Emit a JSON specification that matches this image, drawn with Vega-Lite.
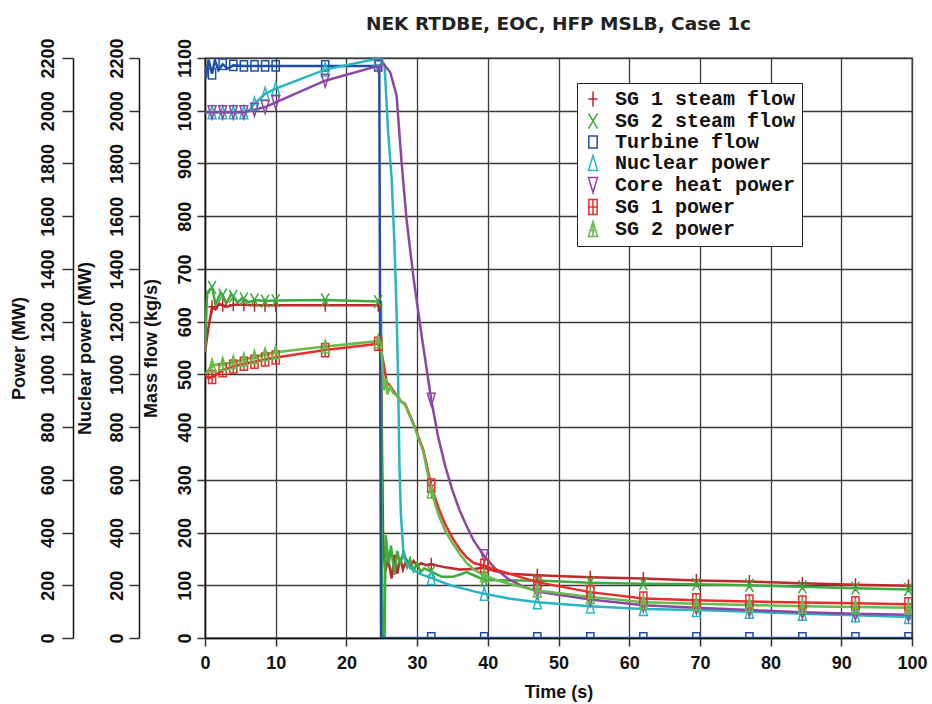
{
"$schema":"https://vega.github.io/schema/vega-lite/v6.json",
"width":707,"height":580,
"autosize":{"type":"none"},
"padding":{"left":205,"top":58,"right":20,"bottom":66},
"background":"white",
"title":{"text":"NEK RTDBE, EOC, HFP MSLB, Case 1c","font":"DejaVu Sans","fontWeight":"bold","fontSize":18.5,"color":"#222","anchor":"middle","frame":"group","offset":-11,"baseline":"alphabetic"},
"config":{
 "view":{"stroke":"#333","strokeWidth":1.3},
 "axis":{"labelFont":"Liberation Sans","labelFontWeight":"bold","labelFontSize":18,"labelColor":"#111","labelOverlap":false,"titleFont":"Liberation Sans","titleFontWeight":"bold","titleFontSize":18,"titleColor":"#111","domainColor":"#111","domainWidth":1.5,"tickColor":"#333","tickWidth":1.5}
},
"datasets":{
"pax":[{"p":0},{"p":2200}],
"flow":[
{"s":"SG 1 steam flow","t":0,"v":542,"m":0},{"s":"SG 1 steam flow","t":0.5,"v":590,"m":0},{"s":"SG 1 steam flow","t":1,"v":628,"m":1},{"s":"SG 1 steam flow","t":1.5,"v":623,"m":0},{"s":"SG 1 steam flow","t":2,"v":634,"m":0},{"s":"SG 1 steam flow","t":2.5,"v":631,"m":1},{"s":"SG 1 steam flow","t":3,"v":628,"m":0},{"s":"SG 1 steam flow","t":4,"v":632,"m":1},{"s":"SG 1 steam flow","t":5.5,"v":632,"m":1},{"s":"SG 1 steam flow","t":7,"v":631,"m":1},{"s":"SG 1 steam flow","t":8.5,"v":631,"m":1},{"s":"SG 1 steam flow","t":10,"v":631,"m":1},{"s":"SG 1 steam flow","t":17,"v":631,"m":1},{"s":"SG 1 steam flow","t":24.5,"v":631,"m":1},{"s":"SG 1 steam flow","t":24.8,"v":630,"m":0},{"s":"SG 1 steam flow","t":25.2,"v":182,"m":0},{"s":"SG 1 steam flow","t":25.5,"v":125,"m":0},{"s":"SG 1 steam flow","t":25.9,"v":150,"m":0},{"s":"SG 1 steam flow","t":26.4,"v":113,"m":0},{"s":"SG 1 steam flow","t":26.8,"v":158,"m":0},{"s":"SG 1 steam flow","t":27.2,"v":122,"m":0},{"s":"SG 1 steam flow","t":27.6,"v":152,"m":0},{"s":"SG 1 steam flow","t":28,"v":130,"m":0},{"s":"SG 1 steam flow","t":28.5,"v":148,"m":0},{"s":"SG 1 steam flow","t":29,"v":134,"m":0},{"s":"SG 1 steam flow","t":29.5,"v":146,"m":0},{"s":"SG 1 steam flow","t":30,"v":137,"m":0},{"s":"SG 1 steam flow","t":30.6,"v":142,"m":0},{"s":"SG 1 steam flow","t":31.2,"v":138,"m":0},{"s":"SG 1 steam flow","t":32,"v":140,"m":1},{"s":"SG 1 steam flow","t":34,"v":134,"m":0},{"s":"SG 1 steam flow","t":36,"v":130,"m":0},{"s":"SG 1 steam flow","t":38,"v":131,"m":0},{"s":"SG 1 steam flow","t":39.5,"v":133,"m":1},{"s":"SG 1 steam flow","t":41,"v":127,"m":0},{"s":"SG 1 steam flow","t":43,"v":122,"m":0},{"s":"SG 1 steam flow","t":47,"v":119,"m":1},{"s":"SG 1 steam flow","t":54.5,"v":115,"m":1},{"s":"SG 1 steam flow","t":62,"v":113,"m":1},{"s":"SG 1 steam flow","t":69.5,"v":109,"m":1},{"s":"SG 1 steam flow","t":77,"v":107,"m":1},{"s":"SG 1 steam flow","t":84.5,"v":104,"m":1},{"s":"SG 1 steam flow","t":92,"v":101,"m":1},{"s":"SG 1 steam flow","t":99.5,"v":99,"m":1},{"s":"SG 1 steam flow","t":100,"v":98.5,"m":0},
{"s":"SG 2 steam flow","t":0,"v":542,"m":0},{"s":"SG 2 steam flow","t":0.3,"v":655,"m":0},{"s":"SG 2 steam flow","t":1,"v":665,"m":1},{"s":"SG 2 steam flow","t":1.5,"v":632,"m":0},{"s":"SG 2 steam flow","t":2.2,"v":655,"m":0},{"s":"SG 2 steam flow","t":2.5,"v":650,"m":1},{"s":"SG 2 steam flow","t":3,"v":634,"m":0},{"s":"SG 2 steam flow","t":3.7,"v":652,"m":0},{"s":"SG 2 steam flow","t":4,"v":648,"m":1},{"s":"SG 2 steam flow","t":4.6,"v":636,"m":0},{"s":"SG 2 steam flow","t":5.3,"v":645,"m":0},{"s":"SG 2 steam flow","t":5.5,"v":643,"m":1},{"s":"SG 2 steam flow","t":6.2,"v":637,"m":0},{"s":"SG 2 steam flow","t":7,"v":641,"m":1},{"s":"SG 2 steam flow","t":8.5,"v":639,"m":1},{"s":"SG 2 steam flow","t":10,"v":640,"m":1},{"s":"SG 2 steam flow","t":17,"v":641,"m":1},{"s":"SG 2 steam flow","t":24.5,"v":638,"m":1},{"s":"SG 2 steam flow","t":24.9,"v":637,"m":0},{"s":"SG 2 steam flow","t":25.1,"v":0,"m":0},{"s":"SG 2 steam flow","t":25.4,"v":0,"m":0},{"s":"SG 2 steam flow","t":25.55,"v":195,"m":0},{"s":"SG 2 steam flow","t":26,"v":140,"m":0},{"s":"SG 2 steam flow","t":26.3,"v":175,"m":0},{"s":"SG 2 steam flow","t":26.8,"v":120,"m":0},{"s":"SG 2 steam flow","t":27.2,"v":165,"m":0},{"s":"SG 2 steam flow","t":27.6,"v":140,"m":0},{"s":"SG 2 steam flow","t":28.1,"v":165,"m":0},{"s":"SG 2 steam flow","t":28.6,"v":135,"m":0},{"s":"SG 2 steam flow","t":29,"v":150,"m":0},{"s":"SG 2 steam flow","t":29.5,"v":128,"m":0},{"s":"SG 2 steam flow","t":30,"v":142,"m":0},{"s":"SG 2 steam flow","t":30.5,"v":125,"m":0},{"s":"SG 2 steam flow","t":31,"v":132,"m":0},{"s":"SG 2 steam flow","t":32,"v":126,"m":1},{"s":"SG 2 steam flow","t":33.5,"v":116,"m":0},{"s":"SG 2 steam flow","t":35,"v":116,"m":0},{"s":"SG 2 steam flow","t":36,"v":120,"m":0},{"s":"SG 2 steam flow","t":37,"v":125,"m":0},{"s":"SG 2 steam flow","t":38,"v":119,"m":0},{"s":"SG 2 steam flow","t":39.5,"v":110,"m":1},{"s":"SG 2 steam flow","t":43,"v":109,"m":0},{"s":"SG 2 steam flow","t":47,"v":109,"m":1},{"s":"SG 2 steam flow","t":54.5,"v":105,"m":1},{"s":"SG 2 steam flow","t":62,"v":103,"m":1},{"s":"SG 2 steam flow","t":69.5,"v":102,"m":1},{"s":"SG 2 steam flow","t":77,"v":100,"m":1},{"s":"SG 2 steam flow","t":84.5,"v":97,"m":1},{"s":"SG 2 steam flow","t":92,"v":94.5,"m":1},{"s":"SG 2 steam flow","t":99.5,"v":92,"m":1},{"s":"SG 2 steam flow","t":100,"v":92,"m":0},
{"s":"Turbine flow","t":0,"v":1085,"m":0},{"s":"Turbine flow","t":0.15,"v":1062,"m":0},{"s":"Turbine flow","t":0.5,"v":1097,"m":0},{"s":"Turbine flow","t":1,"v":1070,"m":1},{"s":"Turbine flow","t":1.4,"v":1096,"m":0},{"s":"Turbine flow","t":1.9,"v":1077,"m":0},{"s":"Turbine flow","t":2.5,"v":1088,"m":1},{"s":"Turbine flow","t":3.2,"v":1080,"m":0},{"s":"Turbine flow","t":4,"v":1086,"m":1},{"s":"Turbine flow","t":5.5,"v":1085,"m":1},{"s":"Turbine flow","t":7,"v":1085,"m":1},{"s":"Turbine flow","t":8.5,"v":1085,"m":1},{"s":"Turbine flow","t":10,"v":1085,"m":1},{"s":"Turbine flow","t":17,"v":1085,"m":1},{"s":"Turbine flow","t":24.5,"v":1085,"m":1},{"s":"Turbine flow","t":24.65,"v":1085,"m":0},{"s":"Turbine flow","t":24.9,"v":0,"m":0},{"s":"Turbine flow","t":32,"v":0,"m":1},{"s":"Turbine flow","t":39.5,"v":0,"m":1},{"s":"Turbine flow","t":47,"v":0,"m":1},{"s":"Turbine flow","t":54.5,"v":0,"m":1},{"s":"Turbine flow","t":62,"v":0,"m":1},{"s":"Turbine flow","t":69.5,"v":0,"m":1},{"s":"Turbine flow","t":77,"v":0,"m":1},{"s":"Turbine flow","t":84.5,"v":0,"m":1},{"s":"Turbine flow","t":92,"v":0,"m":1},{"s":"Turbine flow","t":99.5,"v":0,"m":1},{"s":"Turbine flow","t":100,"v":0,"m":0}
],
"power":[
{"s":"Nuclear power","t":0,"v":1994,"m":0},{"s":"Nuclear power","t":1,"v":1994,"m":1},{"s":"Nuclear power","t":2.5,"v":1994,"m":1},{"s":"Nuclear power","t":4,"v":1994,"m":1},{"s":"Nuclear power","t":5.5,"v":1994,"m":1},{"s":"Nuclear power","t":6.2,"v":2000,"m":0},{"s":"Nuclear power","t":7,"v":2026,"m":1},{"s":"Nuclear power","t":8.5,"v":2064,"m":1},{"s":"Nuclear power","t":10,"v":2084,"m":1},{"s":"Nuclear power","t":17,"v":2156,"m":1},{"s":"Nuclear power","t":24.5,"v":2198,"m":1},{"s":"Nuclear power","t":24.9,"v":2200,"m":0},{"s":"Nuclear power","t":25.4,"v":2170,"m":0},{"s":"Nuclear power","t":25.9,"v":1920,"m":0},{"s":"Nuclear power","t":26.4,"v":1742,"m":0},{"s":"Nuclear power","t":26.8,"v":1490,"m":0},{"s":"Nuclear power","t":27.1,"v":1236,"m":0},{"s":"Nuclear power","t":27.3,"v":1000,"m":0},{"s":"Nuclear power","t":27.5,"v":660,"m":0},{"s":"Nuclear power","t":27.7,"v":472,"m":0},{"s":"Nuclear power","t":28.1,"v":308,"m":0},{"s":"Nuclear power","t":28.6,"v":280,"m":0},{"s":"Nuclear power","t":29.3,"v":260,"m":0},{"s":"Nuclear power","t":30.5,"v":242,"m":0},{"s":"Nuclear power","t":32,"v":228,"m":1},{"s":"Nuclear power","t":34.7,"v":200,"m":0},{"s":"Nuclear power","t":38.2,"v":176,"m":0},{"s":"Nuclear power","t":39.5,"v":168,"m":1},{"s":"Nuclear power","t":43,"v":150,"m":0},{"s":"Nuclear power","t":47,"v":136,"m":1},{"s":"Nuclear power","t":54.5,"v":120,"m":1},{"s":"Nuclear power","t":62,"v":110,"m":1},{"s":"Nuclear power","t":69.5,"v":106,"m":1},{"s":"Nuclear power","t":77,"v":100,"m":1},{"s":"Nuclear power","t":84.5,"v":92,"m":1},{"s":"Nuclear power","t":92,"v":86,"m":1},{"s":"Nuclear power","t":99.5,"v":80,"m":1},{"s":"Nuclear power","t":100,"v":80,"m":0},
{"s":"Core heat power","t":0,"v":1994,"m":0},{"s":"Core heat power","t":1,"v":1994,"m":1},{"s":"Core heat power","t":2.5,"v":1994,"m":1},{"s":"Core heat power","t":4,"v":1994,"m":1},{"s":"Core heat power","t":5.5,"v":1994,"m":1},{"s":"Core heat power","t":7,"v":2004,"m":1},{"s":"Core heat power","t":8.5,"v":2014,"m":1},{"s":"Core heat power","t":10,"v":2032,"m":1},{"s":"Core heat power","t":17,"v":2114,"m":1},{"s":"Core heat power","t":24.5,"v":2170,"m":1},{"s":"Core heat power","t":25.3,"v":2176,"m":0},{"s":"Core heat power","t":26.2,"v":2146,"m":0},{"s":"Core heat power","t":27.1,"v":2058,"m":0},{"s":"Core heat power","t":27.8,"v":1806,"m":0},{"s":"Core heat power","t":28.5,"v":1590,"m":0},{"s":"Core heat power","t":29.5,"v":1364,"m":0},{"s":"Core heat power","t":30.7,"v":1136,"m":0},{"s":"Core heat power","t":32,"v":904,"m":1},{"s":"Core heat power","t":33,"v":760,"m":0},{"s":"Core heat power","t":34,"v":650,"m":0},{"s":"Core heat power","t":35,"v":560,"m":0},{"s":"Core heat power","t":36,"v":485,"m":0},{"s":"Core heat power","t":37,"v":425,"m":0},{"s":"Core heat power","t":38,"v":370,"m":0},{"s":"Core heat power","t":39.5,"v":310,"m":1},{"s":"Core heat power","t":41,"v":265,"m":0},{"s":"Core heat power","t":43,"v":222,"m":0},{"s":"Core heat power","t":45,"v":195,"m":0},{"s":"Core heat power","t":47,"v":176,"m":1},{"s":"Core heat power","t":54.5,"v":146,"m":1},{"s":"Core heat power","t":62,"v":124,"m":1},{"s":"Core heat power","t":69.5,"v":115,"m":1},{"s":"Core heat power","t":77,"v":106,"m":1},{"s":"Core heat power","t":84.5,"v":98,"m":1},{"s":"Core heat power","t":92,"v":92,"m":1},{"s":"Core heat power","t":99.5,"v":88,"m":1},{"s":"Core heat power","t":100,"v":88,"m":0},
{"s":"SG 1 power","t":0,"v":996,"m":0},{"s":"SG 1 power","t":0.5,"v":986,"m":0},{"s":"SG 1 power","t":1,"v":990,"m":1},{"s":"SG 1 power","t":2.5,"v":1016,"m":1},{"s":"SG 1 power","t":4,"v":1030,"m":1},{"s":"SG 1 power","t":5.5,"v":1040,"m":1},{"s":"SG 1 power","t":7,"v":1048,"m":1},{"s":"SG 1 power","t":8.5,"v":1056,"m":1},{"s":"SG 1 power","t":10,"v":1064,"m":1},{"s":"SG 1 power","t":17,"v":1092,"m":1},{"s":"SG 1 power","t":24.5,"v":1116,"m":1},{"s":"SG 1 power","t":24.8,"v":1114,"m":0},{"s":"SG 1 power","t":25.7,"v":970,"m":0},{"s":"SG 1 power","t":26.2,"v":956,"m":0},{"s":"SG 1 power","t":27.1,"v":920,"m":0},{"s":"SG 1 power","t":27.8,"v":896,"m":0},{"s":"SG 1 power","t":28.3,"v":888,"m":0},{"s":"SG 1 power","t":29.7,"v":800,"m":0},{"s":"SG 1 power","t":30.9,"v":712,"m":0},{"s":"SG 1 power","t":32,"v":578,"m":1},{"s":"SG 1 power","t":33,"v":495,"m":0},{"s":"SG 1 power","t":34,"v":430,"m":0},{"s":"SG 1 power","t":35,"v":380,"m":0},{"s":"SG 1 power","t":36,"v":338,"m":0},{"s":"SG 1 power","t":37,"v":306,"m":0},{"s":"SG 1 power","t":38,"v":285,"m":0},{"s":"SG 1 power","t":39.5,"v":274,"m":1},{"s":"SG 1 power","t":41,"v":260,"m":0},{"s":"SG 1 power","t":43,"v":244,"m":0},{"s":"SG 1 power","t":47,"v":212,"m":1},{"s":"SG 1 power","t":54.5,"v":174,"m":1},{"s":"SG 1 power","t":62,"v":150,"m":1},{"s":"SG 1 power","t":69.5,"v":143,"m":1},{"s":"SG 1 power","t":77,"v":138,"m":1},{"s":"SG 1 power","t":84.5,"v":135,"m":1},{"s":"SG 1 power","t":92,"v":132,"m":1},{"s":"SG 1 power","t":99.5,"v":128,"m":1},{"s":"SG 1 power","t":100,"v":128,"m":0},
{"s":"SG 2 power","t":0,"v":1002,"m":0},{"s":"SG 2 power","t":0.4,"v":1012,"m":0},{"s":"SG 2 power","t":1,"v":1034,"m":1},{"s":"SG 2 power","t":2.5,"v":1040,"m":1},{"s":"SG 2 power","t":4,"v":1046,"m":1},{"s":"SG 2 power","t":5.5,"v":1056,"m":1},{"s":"SG 2 power","t":7,"v":1066,"m":1},{"s":"SG 2 power","t":8.5,"v":1076,"m":1},{"s":"SG 2 power","t":10,"v":1084,"m":1},{"s":"SG 2 power","t":17,"v":1106,"m":1},{"s":"SG 2 power","t":24.5,"v":1126,"m":1},{"s":"SG 2 power","t":24.9,"v":1120,"m":0},{"s":"SG 2 power","t":25.3,"v":940,"m":0},{"s":"SG 2 power","t":25.6,"v":985,"m":0},{"s":"SG 2 power","t":25.8,"v":924,"m":0},{"s":"SG 2 power","t":26.2,"v":956,"m":0},{"s":"SG 2 power","t":26.6,"v":930,"m":0},{"s":"SG 2 power","t":27.1,"v":920,"m":0},{"s":"SG 2 power","t":27.8,"v":896,"m":0},{"s":"SG 2 power","t":28.3,"v":884,"m":0},{"s":"SG 2 power","t":29.7,"v":796,"m":0},{"s":"SG 2 power","t":30.9,"v":704,"m":0},{"s":"SG 2 power","t":32,"v":556,"m":1},{"s":"SG 2 power","t":33,"v":470,"m":0},{"s":"SG 2 power","t":34,"v":405,"m":0},{"s":"SG 2 power","t":35,"v":360,"m":0},{"s":"SG 2 power","t":36,"v":320,"m":0},{"s":"SG 2 power","t":37,"v":285,"m":0},{"s":"SG 2 power","t":38,"v":260,"m":0},{"s":"SG 2 power","t":39.5,"v":238,"m":1},{"s":"SG 2 power","t":41,"v":222,"m":0},{"s":"SG 2 power","t":43,"v":206,"m":0},{"s":"SG 2 power","t":47,"v":180,"m":1},{"s":"SG 2 power","t":54.5,"v":156,"m":1},{"s":"SG 2 power","t":62,"v":136,"m":1},{"s":"SG 2 power","t":69.5,"v":130,"m":1},{"s":"SG 2 power","t":77,"v":125,"m":1},{"s":"SG 2 power","t":84.5,"v":120,"m":1},{"s":"SG 2 power","t":92,"v":118,"m":1},{"s":"SG 2 power","t":99.5,"v":115,"m":1},{"s":"SG 2 power","t":100,"v":115,"m":0}
]
},
"layer":[
{"data":{"name":"pax"},"mark":{"type":"point","opacity":0},
 "encoding":{"y":{"field":"p","type":"quantitative","scale":{"domain":[0,2200],"nice":false},
  "axis":{"orient":"left","offset":132,"values":[0,200,400,600,800,1000,1200,1400,1600,1800,2000,2200],"format":"d","grid":false,"tickSize":11,"labelPadding":9,"labelAngle":270,"labelAlign":"center","labelBaseline":"alphabetic","title":"Power  (MW)","titleX":-49,"titleY":290,"titleAngle":270,"titleAlign":"center","titleBaseline":"alphabetic"}}}},
{"data":{"name":"flow"},
 "encoding":{
  "x":{"field":"t","type":"quantitative","scale":{"domain":[0,100],"nice":false},
   "axis":{"title":"Time (s)","values":[0,10,20,30,40,50,60,70,80,90,100],"format":"d","grid":true,"gridColor":"#3a3a3a","gridWidth":1.3,"tickSize":8,"labelPadding":8,"labelAngle":0,"labelFlush":false,"titleBaseline":"alphabetic","titleY":59,"titleX":353.5,"titleAlign":"center"}},
  "y":{"field":"v","type":"quantitative","scale":{"domain":[0,1100],"nice":false},
   "axis":{"orient":"left","offset":0,"values":[0,100,200,300,400,500,600,700,800,900,1000,1100],"format":"d","grid":true,"gridColor":"#3a3a3a","gridWidth":1.3,"tickSize":8,"labelPadding":7,"labelAngle":270,"labelAlign":"center","labelBaseline":"alphabetic","title":"Mass flow  (kg/s)","titleX":-49,"titleY":290,"titleAngle":270,"titleAlign":"center","titleBaseline":"alphabetic"}},
  "color":{"field":"s","type":"nominal",
   "scale":{"domain":["SG 1 steam flow","SG 2 steam flow","Turbine flow","Nuclear power","Core heat power","SG 1 power","SG 2 power"],"range":["#c1272d","#3daa3d","#1f4ea3","#27b6c1","#8d45a5","#ec2b2b","#66bb4a"]},
   "legend":{"orient":"none","legendX":372,"legendY":25,"title":null,"labelFont":"Liberation Mono","labelFontWeight":"bold","labelFontSize":20,"labelColor":"#111","symbolSize":230,"symbolStrokeWidth":1.5,"symbolFillColor":"transparent","rowPadding":0,"padding":6,"strokeColor":"#222","fillColor":"#ffffff","labelOffset":12,"labelLimit":400}}
 },
 "layer":[
  {"mark":{"type":"line","strokeWidth":2.5,"clip":true}},
  {"transform":[{"filter":"datum.m == 1"}],"mark":{"type":"point","filled":false,"size":170,"strokeWidth":1.5,"clip":true,"opacity":1},
   "encoding":{"shape":{"field":"s","type":"nominal",
    "scale":{"domain":["SG 1 steam flow","SG 2 steam flow","Turbine flow","Nuclear power","Core heat power","SG 1 power","SG 2 power"],"range":["M0,-1V1M-0.6,0H0.6","M-0.6,-1L0.6,1M0.6,-1L-0.6,1","M-0.55,-0.8H0.55V0.8H-0.55Z","M0,-1L0.6,1H-0.6Z","M-0.6,-1H0.6L0,1Z","M-0.55,-1H0.55V1H-0.55ZM0,-1V1M-0.55,0H0.55","M0,-1L0.6,1H-0.6ZM0,-1V1M-0.35,0.2H0.35"]},
    "legend":{"orient":"none","legendX":372,"legendY":25,"title":null,"labelFont":"Liberation Mono","labelFontWeight":"bold","labelFontSize":20,"labelColor":"#111","symbolSize":230,"symbolStrokeWidth":1.5,"symbolFillColor":"transparent","rowPadding":0,"padding":6,"strokeColor":"#222","fillColor":"#ffffff","labelOffset":12,"labelLimit":400}}}}
 ]},
{"data":{"name":"power"},
 "encoding":{
  "x":{"field":"t","type":"quantitative","scale":{"domain":[0,100],"nice":false},
   "axis":{"title":"Time (s)","values":[0,10,20,30,40,50,60,70,80,90,100],"format":"d","grid":true,"gridColor":"#3a3a3a","gridWidth":1.3,"tickSize":8,"labelPadding":8,"labelAngle":0,"labelFlush":false,"titleBaseline":"alphabetic","titleY":59,"titleX":353.5,"titleAlign":"center"}},
  "y":{"field":"v","type":"quantitative","scale":{"domain":[0,2200],"nice":false},
   "axis":{"orient":"left","offset":66,"values":[0,200,400,600,800,1000,1200,1400,1600,1800,2000,2200],"format":"d","grid":false,"tickSize":10,"labelPadding":7,"labelAngle":270,"labelAlign":"center","labelBaseline":"alphabetic","title":"Nuclear power  (MW)","titleX":-49,"titleY":290,"titleAngle":270,"titleAlign":"center","titleBaseline":"alphabetic"}},
  "color":{"field":"s","type":"nominal",
   "scale":{"domain":["SG 1 steam flow","SG 2 steam flow","Turbine flow","Nuclear power","Core heat power","SG 1 power","SG 2 power"],"range":["#c1272d","#3daa3d","#1f4ea3","#27b6c1","#8d45a5","#ec2b2b","#66bb4a"]},
   "legend":{"orient":"none","legendX":372,"legendY":25,"title":null,"labelFont":"Liberation Mono","labelFontWeight":"bold","labelFontSize":20,"labelColor":"#111","symbolSize":230,"symbolStrokeWidth":1.5,"symbolFillColor":"transparent","rowPadding":0,"padding":6,"strokeColor":"#222","fillColor":"#ffffff","labelOffset":12,"labelLimit":400}}
 },
 "layer":[
  {"mark":{"type":"line","strokeWidth":2.5,"clip":true}},
  {"transform":[{"filter":"datum.m == 1"}],"mark":{"type":"point","filled":false,"size":170,"strokeWidth":1.5,"clip":true,"opacity":1},
   "encoding":{"shape":{"field":"s","type":"nominal",
    "scale":{"domain":["SG 1 steam flow","SG 2 steam flow","Turbine flow","Nuclear power","Core heat power","SG 1 power","SG 2 power"],"range":["M0,-1V1M-0.6,0H0.6","M-0.6,-1L0.6,1M0.6,-1L-0.6,1","M-0.55,-0.8H0.55V0.8H-0.55Z","M0,-1L0.6,1H-0.6Z","M-0.6,-1H0.6L0,1Z","M-0.55,-1H0.55V1H-0.55ZM0,-1V1M-0.55,0H0.55","M0,-1L0.6,1H-0.6ZM0,-1V1M-0.35,0.2H0.35"]},
    "legend":{"orient":"none","legendX":372,"legendY":25,"title":null,"labelFont":"Liberation Mono","labelFontWeight":"bold","labelFontSize":20,"labelColor":"#111","symbolSize":230,"symbolStrokeWidth":1.5,"symbolFillColor":"transparent","rowPadding":0,"padding":6,"strokeColor":"#222","fillColor":"#ffffff","labelOffset":12,"labelLimit":400}}}}
 ]}
],
"resolve":{"scale":{"y":"independent"}}
}
